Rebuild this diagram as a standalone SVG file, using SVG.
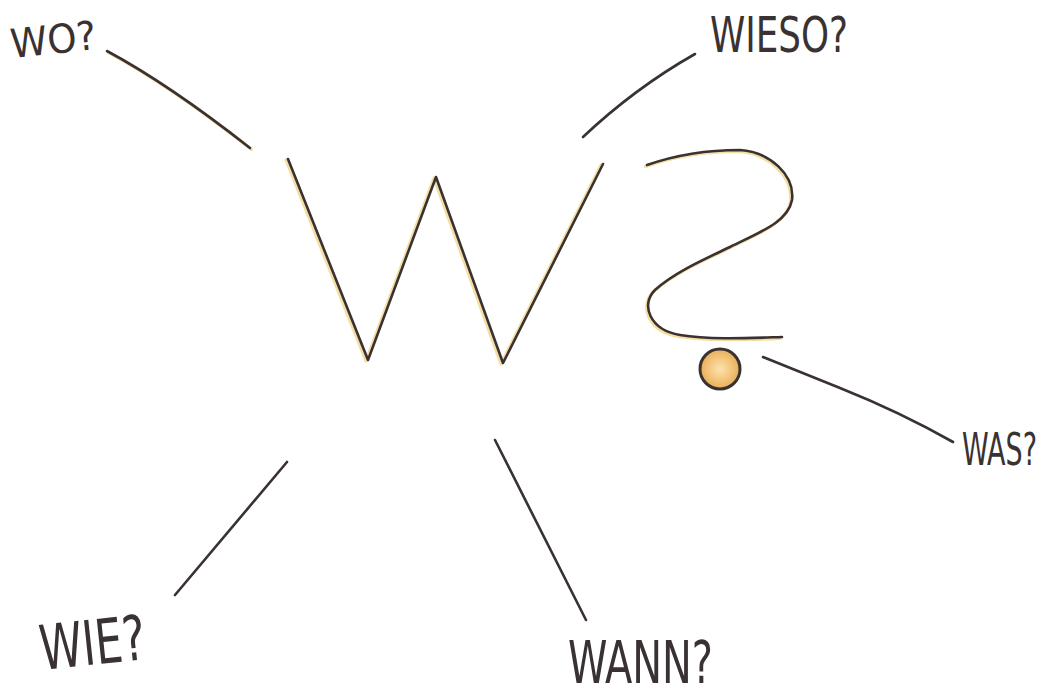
<svg xmlns="http://www.w3.org/2000/svg" width="1048" height="695" viewBox="0 0 1048 695">
  <defs>
    <radialGradient id="dotFill" cx="0.5" cy="0.5" r="0.5">
      <stop offset="0" stop-color="#fbe3b0"/>
      <stop offset="0.6" stop-color="#f3c47a"/>
      <stop offset="1" stop-color="#e6ae5a"/>
    </radialGradient>
  </defs>
  <style>
    .ink { fill: none; stroke: #3a3131; stroke-width: 2.6; stroke-linecap: round; stroke-linejoin: round; }
    .halo { fill: none; stroke: #f2d68c; stroke-width: 3.2; stroke-linecap: round; stroke-linejoin: round; opacity: 0.8; }
    .lbl { font-family: "Liberation Sans Narrow", "DejaVu Sans Condensed", "Liberation Sans", sans-serif; fill: #3a3232; }
  </style>
  <rect width="1048" height="695" fill="#ffffff"/>

  <g id="connectors">
    <path class="halo" d="M107,51 Q170,85 250,148" transform="translate(1.5,1.5)"/>
    <path class="ink" d="M107,51 Q170,85 250,148"/>
    <path class="ink" d="M583,137 Q635,88 695,54"/>
    <path class="ink" d="M763,357 Q800,372 840,388 Q900,412 953,442"/>
    <path class="ink" d="M287,462 L175,595"/>
    <path class="ink" d="M495,440 L586,620"/>
  </g>

  <g id="node-w">
    <path class="halo" d="M288,159 L368,360 L436,177 L503,363 L603,164" transform="translate(-2,1)"/>
    <path class="ink" d="M288,159 L368,360 L436,177 L503,363 L603,164"/>
  </g>

  <g id="node-question">
    <path class="halo" d="M647,165 C670,157 700,150 740,150 C770,152 795,175 792,200 C788,222 760,232 730,247 C705,259 675,272 655,290 C640,305 650,330 680,335 C710,340 750,338 782,337" transform="translate(-1.5,1.5)"/>
    <path class="ink" d="M647,165 C670,157 700,150 740,150 C770,152 795,175 792,200 C788,222 760,232 730,247 C705,259 675,272 655,290 C640,305 650,330 680,335 C710,340 750,338 782,337"/>
    <circle cx="720" cy="369" r="20" fill="url(#dotFill)" stroke="#3a3131" stroke-width="3"/>
  </g>

  <g id="label-wo">
    <text class="lbl" x="12" y="58" font-size="40" textLength="86" lengthAdjust="spacingAndGlyphs" transform="rotate(-6 12 58)">WO?</text>
  </g>
  <g id="label-wieso">
    <text class="lbl" x="710" y="52" font-size="50" textLength="138" lengthAdjust="spacingAndGlyphs">WIESO?</text>
  </g>
  <g id="label-was">
    <text class="lbl" x="0" y="0" font-size="30" transform="translate(962,465) scale(1,1.5)">WAS?</text>
  </g>
  <g id="label-wie">
    <text class="lbl" x="42" y="670" font-size="62" textLength="106" lengthAdjust="spacingAndGlyphs" transform="rotate(-6 42 670)">WIE?</text>
  </g>
  <g id="label-wann">
    <text class="lbl" x="568" y="683" font-size="58" textLength="145" lengthAdjust="spacingAndGlyphs">WANN?</text>
  </g>
</svg>
